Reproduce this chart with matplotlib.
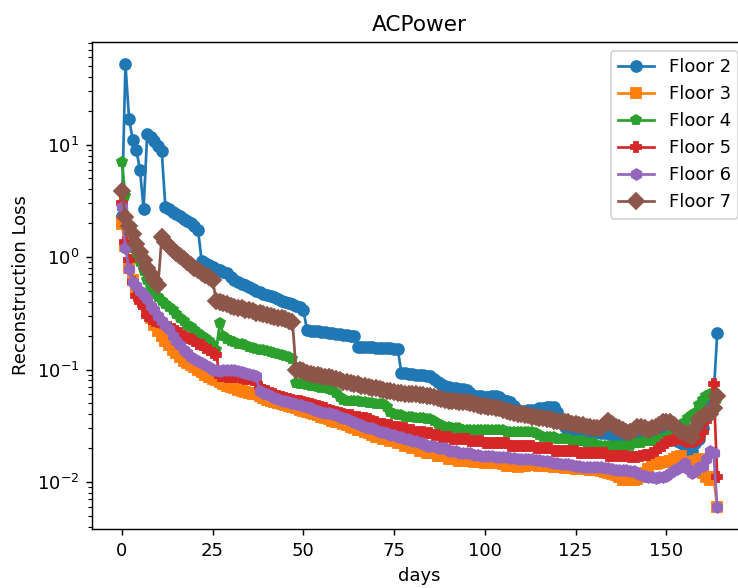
import matplotlib
matplotlib.use("Agg")
import matplotlib.pyplot as plt

days = list(range(165))

floor2 = [
    2.3, 52, 17, 11, 9.0, 6.0, 2.7, 12.5, 11.8, 10.8, 9.7, 8.7, 2.8,
    2.65, 2.5, 2.4, 2.3, 2.2, 2.1, 2.0, 1.9, 1.75,
    0.92, 0.88, 0.85, 0.82, 0.79, 0.76, 0.74, 0.72, 0.66,
    0.62, 0.60, 0.58, 0.56, 0.54, 0.52, 0.50, 0.49, 0.47, 0.46,
    0.45, 0.44, 0.42, 0.41, 0.40, 0.39, 0.38, 0.37, 0.36, 0.34,
    0.225, 0.222, 0.22, 0.218, 0.216, 0.214, 0.212, 0.21, 0.208, 0.206, 0.204, 0.202, 0.2, 0.199,
    0.16, 0.159, 0.158, 0.158, 0.157, 0.156, 0.156, 0.155, 0.155, 0.154, 0.153, 0.152,
    0.094, 0.093, 0.092, 0.091, 0.09, 0.089, 0.089, 0.088, 0.087,
    0.082, 0.078, 0.074, 0.071, 0.070, 0.069, 0.068, 0.067, 0.067, 0.066, 0.062, 0.058,
    0.058, 0.058, 0.057, 0.057, 0.058, 0.058, 0.057,
    0.054, 0.052, 0.051, 0.047, 0.044, 0.043, 0.043, 0.044, 0.044, 0.044, 0.045, 0.045, 0.046, 0.046, 0.046,
    0.042, 0.036, 0.031, 0.028, 0.028, 0.028, 0.027, 0.028, 0.028, 0.027, 0.028, 0.028, 0.027, 0.027, 0.027,
    0.026, 0.025, 0.024, 0.023, 0.022, 0.022, 0.023, 0.023, 0.024, 0.024, 0.025, 0.025, 0.026, 0.027, 0.027, 0.028,
    0.026, 0.025, 0.023, 0.022, 0.021, 0.019, 0.019, 0.022, 0.024, 0.030, 0.047, 0.050, 0.058, 0.21,
]

floor3 = [
    1.95, 1.25, 0.8, 0.62, 0.52, 0.44, 0.38, 0.33, 0.29, 0.25, 0.22,
    0.2, 0.18, 0.165, 0.15, 0.14, 0.13, 0.12, 0.115, 0.11, 0.105,
    0.1, 0.095, 0.09, 0.086, 0.083, 0.08, 0.077, 0.074, 0.072, 0.07,
    0.068, 0.066, 0.065, 0.063, 0.062, 0.061, 0.06, 0.058, 0.056, 0.054,
    0.052, 0.051, 0.05, 0.049, 0.048, 0.047, 0.046, 0.045, 0.044, 0.043,
    0.042, 0.041, 0.040, 0.039, 0.038, 0.037, 0.036, 0.035, 0.034, 0.034,
    0.033, 0.032, 0.031, 0.030, 0.029, 0.029, 0.028, 0.027, 0.026, 0.025,
    0.025, 0.024, 0.024, 0.023, 0.023, 0.022, 0.022, 0.021, 0.021, 0.020,
    0.020, 0.019, 0.019, 0.018, 0.018, 0.018, 0.017, 0.017, 0.017, 0.016,
    0.016, 0.016, 0.0155, 0.0155, 0.0154, 0.0152, 0.015, 0.015, 0.015, 0.0148,
    0.0148, 0.0147, 0.0147, 0.0146, 0.0145, 0.014, 0.0138, 0.0138, 0.0137, 0.0138,
    0.014, 0.0145, 0.0145, 0.0142, 0.014, 0.014, 0.0138, 0.0138, 0.0137, 0.0136,
    0.0135, 0.0134, 0.0133, 0.0132, 0.0131, 0.013, 0.013, 0.013, 0.0128, 0.0128,
    0.013, 0.0125, 0.0122, 0.012, 0.0118, 0.0115, 0.011, 0.0105, 0.0105, 0.0105,
    0.0105, 0.0106, 0.011, 0.012, 0.013, 0.015, 0.0145, 0.0148, 0.015, 0.015,
    0.0155, 0.016, 0.0165, 0.017, 0.0145, 0.014, 0.015, 0.0155, 0.016, 0.012, 0.011, 0.0105, 0.011, 0.006,
]

floor4 = [
    7.0, 3.5, 1.7, 1.2, 1.0, 0.9, 0.75, 0.62, 0.53, 0.48, 0.44,
    0.41, 0.38, 0.36, 0.34, 0.31, 0.29, 0.27, 0.25, 0.24, 0.225,
    0.21, 0.2, 0.19, 0.18, 0.165, 0.15, 0.26, 0.2, 0.185, 0.18,
    0.175, 0.17, 0.168, 0.165, 0.16, 0.155, 0.152, 0.15, 0.148, 0.145,
    0.142, 0.14, 0.138, 0.135, 0.132, 0.13, 0.125, 0.076, 0.075, 0.074,
    0.073, 0.072, 0.071, 0.070, 0.069, 0.068, 0.067, 0.066, 0.062, 0.057,
    0.054, 0.053, 0.053, 0.052, 0.052, 0.051, 0.051, 0.050, 0.050, 0.049,
    0.049, 0.049, 0.046, 0.042, 0.04, 0.039, 0.039, 0.038, 0.038, 0.038,
    0.037, 0.037, 0.037, 0.036, 0.036, 0.035, 0.033, 0.032, 0.031, 0.031,
    0.030, 0.030, 0.030, 0.029, 0.029, 0.029, 0.029, 0.029, 0.029, 0.029,
    0.029, 0.029, 0.029, 0.029, 0.029, 0.028, 0.028, 0.028, 0.028, 0.028,
    0.028, 0.028, 0.028, 0.027, 0.026, 0.025, 0.025, 0.025, 0.025, 0.024,
    0.024, 0.024, 0.024, 0.023, 0.023, 0.023, 0.023, 0.022, 0.022, 0.022,
    0.021, 0.021, 0.021, 0.021, 0.021, 0.021, 0.021, 0.021, 0.021, 0.021,
    0.022, 0.022, 0.022, 0.023, 0.023, 0.023, 0.023, 0.024, 0.024, 0.024,
    0.026, 0.028, 0.03, 0.032, 0.034, 0.037, 0.039, 0.041, 0.048, 0.054, 0.058, 0.06, 0.062, 0.055,
]

floor5 = [
    3.0, 1.35, 0.95, 0.6, 0.45, 0.4, 0.36, 0.3, 0.28, 0.27, 0.265,
    0.26, 0.25, 0.24, 0.23, 0.22, 0.21, 0.2, 0.19, 0.185, 0.18,
    0.17, 0.165, 0.155, 0.15, 0.14, 0.135,
    0.088, 0.087, 0.086, 0.086, 0.085, 0.085, 0.084, 0.083, 0.082, 0.081, 0.08,
    0.07, 0.066, 0.064, 0.062, 0.06, 0.058, 0.057, 0.056, 0.055, 0.054, 0.053, 0.052, 0.051,
    0.05, 0.049, 0.048, 0.047, 0.046, 0.045, 0.044, 0.043, 0.042, 0.041,
    0.04, 0.039, 0.039, 0.038, 0.038, 0.037, 0.037, 0.036, 0.035, 0.034,
    0.033, 0.033, 0.032, 0.032, 0.031, 0.031, 0.030, 0.030, 0.029, 0.029,
    0.028, 0.028, 0.028, 0.027, 0.027, 0.026, 0.026, 0.025, 0.025, 0.025,
    0.024, 0.024, 0.024, 0.024, 0.024, 0.023, 0.023, 0.023, 0.023, 0.022,
    0.022, 0.022, 0.022, 0.022, 0.022, 0.022, 0.021, 0.021, 0.021, 0.021,
    0.021, 0.021, 0.021, 0.020, 0.020, 0.020, 0.020, 0.020, 0.019, 0.019,
    0.019, 0.019, 0.019, 0.019, 0.019, 0.018, 0.018, 0.018, 0.018, 0.018,
    0.018, 0.018, 0.018, 0.017, 0.017, 0.017, 0.017, 0.017, 0.017, 0.0165,
    0.0165, 0.0165, 0.017, 0.0172, 0.0175, 0.018, 0.019, 0.02, 0.021, 0.0225,
    0.023, 0.0235, 0.024, 0.024, 0.023, 0.0225, 0.0225, 0.023, 0.024, 0.028, 0.035, 0.041, 0.074, 0.011,
]

floor6 = [
    2.8, 1.2, 0.78, 0.6, 0.55, 0.5, 0.46, 0.42, 0.37, 0.34, 0.3,
    0.27, 0.25, 0.23, 0.2, 0.18, 0.165, 0.15, 0.14, 0.13, 0.125,
    0.12, 0.115, 0.11, 0.105, 0.1, 0.098, 0.096,
    0.098, 0.1, 0.099, 0.098, 0.097, 0.095, 0.093, 0.091, 0.089, 0.087,
    0.064, 0.062, 0.06, 0.058, 0.056, 0.055, 0.053, 0.052, 0.051, 0.05, 0.049, 0.048, 0.047,
    0.046, 0.045, 0.044, 0.043, 0.042, 0.041, 0.041, 0.04, 0.039, 0.038,
    0.037, 0.036, 0.035, 0.034, 0.033, 0.032, 0.031, 0.03, 0.03, 0.029,
    0.028, 0.028, 0.027, 0.026, 0.026, 0.025, 0.025, 0.024, 0.024, 0.023,
    0.023, 0.022, 0.022, 0.021, 0.021, 0.021, 0.02, 0.02, 0.02, 0.019,
    0.019, 0.019, 0.018, 0.018, 0.018, 0.018, 0.0175, 0.0175, 0.017, 0.017,
    0.017, 0.017, 0.0168, 0.0166, 0.0165, 0.0165, 0.0163, 0.0162, 0.016, 0.016,
    0.016, 0.016, 0.016, 0.0158, 0.0156, 0.0154, 0.0152, 0.015, 0.0148, 0.0146,
    0.0145, 0.0144, 0.0143, 0.0142, 0.014, 0.0138, 0.0137, 0.0136, 0.0136, 0.0137,
    0.0136, 0.0135, 0.0134, 0.0132, 0.013, 0.0128, 0.0127, 0.0128, 0.0127, 0.0126,
    0.0125, 0.012, 0.0115, 0.0112, 0.011, 0.011, 0.0108, 0.011, 0.011, 0.0112,
    0.012, 0.0128, 0.013, 0.014, 0.0148, 0.013, 0.012, 0.0125, 0.0135, 0.014, 0.016, 0.019, 0.018, 0.006,
]

floor7 = [
    3.9, 2.25, 1.9, 1.6, 1.3, 1.1, 0.95, 0.8, 0.7, 0.62, 0.57,
    1.5, 1.35, 1.25, 1.15, 1.08, 1.02, 0.96, 0.9, 0.85, 0.8,
    0.76, 0.72, 0.69, 0.66, 0.63, 0.41,
    0.40, 0.39, 0.38, 0.37, 0.36, 0.355, 0.35, 0.34, 0.335, 0.33,
    0.32, 0.315, 0.31, 0.305, 0.3, 0.295, 0.29, 0.285, 0.28, 0.27, 0.265,
    0.1, 0.098, 0.096,
    0.094, 0.092, 0.09, 0.089, 0.088, 0.086, 0.085, 0.084, 0.082, 0.08,
    0.078, 0.077, 0.076, 0.075, 0.074, 0.072, 0.071, 0.07, 0.069, 0.068,
    0.067, 0.066, 0.065, 0.064, 0.063, 0.062, 0.062, 0.061, 0.06, 0.06,
    0.06, 0.059, 0.059, 0.058, 0.058, 0.057, 0.056, 0.055, 0.054, 0.053,
    0.052, 0.052, 0.051, 0.051, 0.051, 0.05, 0.049, 0.048, 0.047, 0.047,
    0.046, 0.046, 0.045, 0.045, 0.044, 0.043, 0.042, 0.041, 0.04, 0.04,
    0.039, 0.039, 0.038, 0.038, 0.037, 0.037, 0.036, 0.036, 0.035, 0.035,
    0.034, 0.034, 0.034, 0.033, 0.033, 0.032, 0.032, 0.031, 0.031, 0.03,
    0.03, 0.03, 0.033, 0.035, 0.033, 0.031, 0.03, 0.029, 0.028, 0.028,
    0.029, 0.031, 0.031, 0.03, 0.029, 0.03, 0.031, 0.032, 0.034, 0.034,
    0.034, 0.032, 0.03, 0.028, 0.027, 0.026, 0.025, 0.03, 0.036, 0.038, 0.04, 0.04, 0.045, 0.058,
]

series = [
    ("Floor 2", floor2, "o"),
    ("Floor 3", floor3, "s"),
    ("Floor 4", floor4, "p"),
    ("Floor 5", floor5, "P"),
    ("Floor 6", floor6, "h"),
    ("Floor 7", floor7, "D"),
]

DPI = 130
fig = plt.figure(figsize=(738 / DPI, 588 / DPI), dpi=DPI)
ax = fig.add_axes([0.1247, 0.1003, 0.8875, 0.8283])

for label, values, marker in series:
    ax.plot(days, values, marker=marker, label=label)

ax.set_yscale("log")
ax.set_title("ACPower")
ax.set_xlabel("days")
ax.set_ylabel("Reconstruction Loss")
ax.legend(loc="upper right")

fig.savefig("out.png", dpi=DPI)
